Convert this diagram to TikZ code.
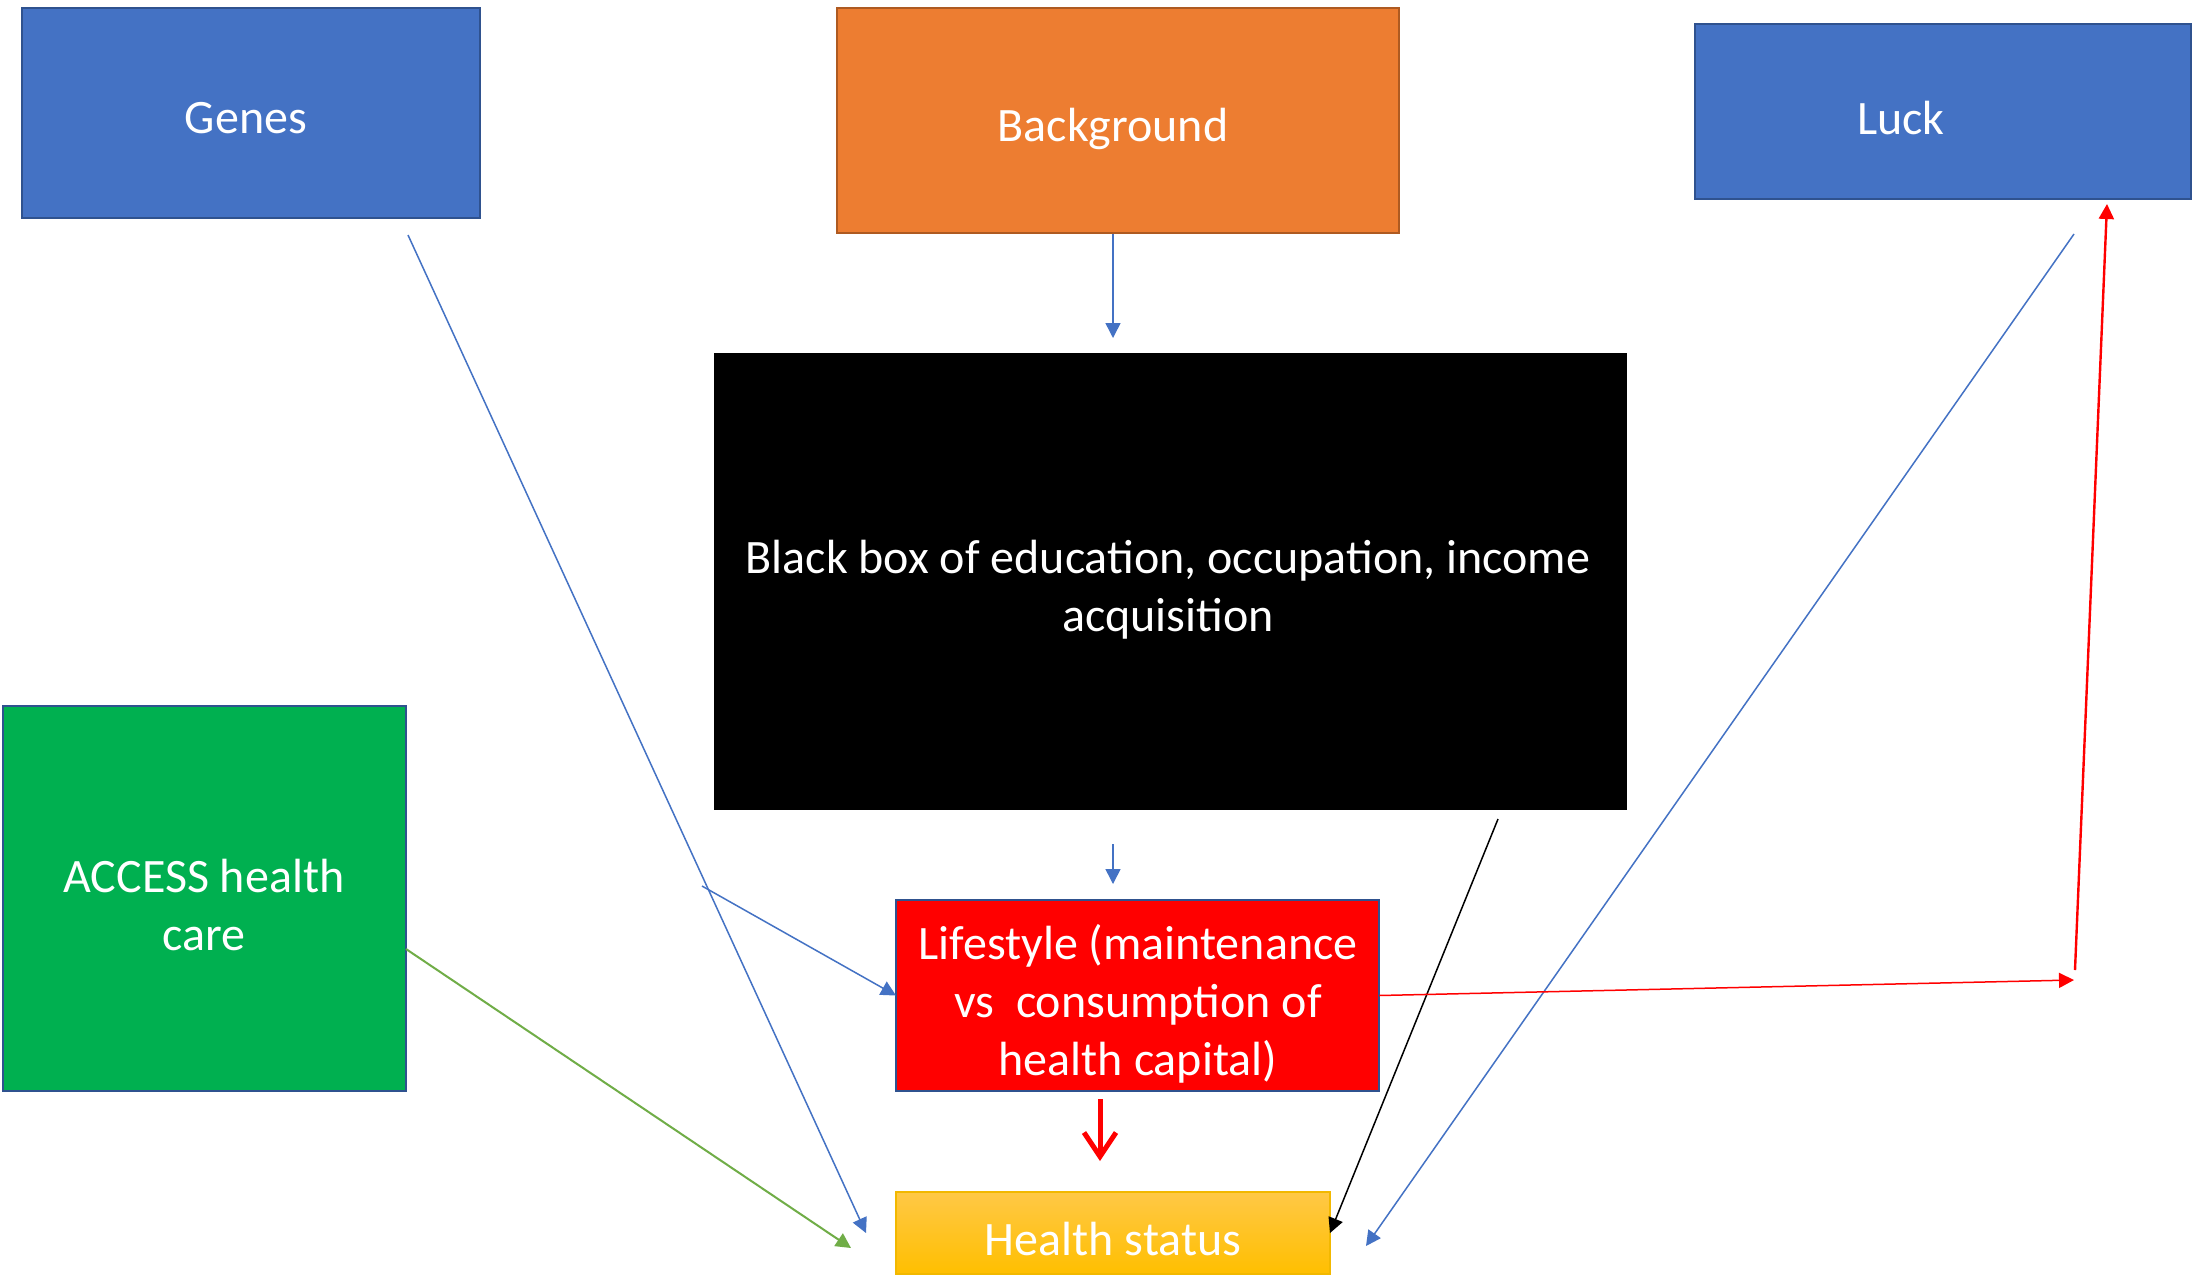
\documentclass[tikz,border=0pt]{standalone}
\usepackage{fontspec}
\setmainfont{Carlito}
\usetikzlibrary{arrows.meta}
\definecolor{boxblue}{HTML}{4472C4}
\definecolor{edgeblue}{HTML}{2F528F}
\definecolor{boxorange}{HTML}{ED7D31}
\definecolor{edgeorange}{HTML}{AE5A21}
\definecolor{boxgreen}{HTML}{00B050}
\definecolor{linegreen}{HTML}{70AD47}
\definecolor{goldtop}{HTML}{FFC846}
\definecolor{goldbot}{HTML}{FFBF00}
\definecolor{goldedge}{HTML}{F2B800}
\tikzset{
  box/.style={rectangle, inner sep=0pt, outer sep=0pt, line width=1pt, align=center,
    text=white, font=\fontsize{24}{29}\selectfont},
  txt/.style={inner sep=0pt, align=center, text=white, font=\fontsize{24}{29}\selectfont},
  conn/.style={line width=0.75pt, -{Triangle[length=7.5pt,width=7.5pt]}},
}
\begin{document}
\begin{tikzpicture}[x=0.5pt,y=-0.5pt]
\useasboundingbox[fill=white] (0,0) rectangle (2202,1282);
% boxes
\node[box, fill=boxblue, draw=edgeblue, minimum width=229pt, minimum height=105pt] (genes) at (251,113) {};
\node[txt] (genest) at (246,118) {Genes};
\node[box, fill=boxorange, draw=edgeorange, minimum width=281pt, minimum height=112.5pt] (bg) at (1118,120.5) {};
\node[txt] (bgt) at (1113,129) {Background};
\node[box, fill=boxblue, draw=edgeblue, minimum width=248pt, minimum height=87.5pt] (luck) at (1943,111.5) {};
\node[txt] (luckt) at (1901,118) {Luck};
\node[box, fill=black, draw=black, minimum width=455.5pt, minimum height=227.5pt] (bb) at (1170.5,581.5) {};
\node[txt] (bbt) at (1168,590) {Black box of education, occupation, income\\acquisition};
\node[box, fill=boxgreen, draw=edgeblue, minimum width=201.5pt, minimum height=192.5pt] (acc) at (204.5,898.5) {};
\node[txt] (acct) at (204,905) {ACCESS health\\care};
\node[box, fill=red, draw=edgeblue, minimum width=241.5pt, minimum height=95.5pt] (life) at (1137.5,995.5) {};
\node[txt] (lifet) at (1138,1004) {Lifestyle (maintenance\\vs\ \ consumption of\\health capital)};
\node[box, top color=goldtop, bottom color=goldbot, draw=goldedge, minimum width=217pt, minimum height=41pt] (hs) at (1113,1233) {};
\node[txt] (hst) at (1113,1239) {Health status};
% free ends
\coordinate (g1) at (408,235);
\coordinate (g2) at (866,1233);
\coordinate (b1) at (1113,234);
\coordinate (b2) at (1113,338);
\coordinate (k1) at (1113,844);
\coordinate (k2) at (1113,884);
\coordinate (l1) at (702,886);
\coordinate (a1) at (406,949);
\coordinate (a2) at (851,1248);
\coordinate (x1) at (1498,819);
\coordinate (u1) at (2074,234);
\coordinate (u2) at (1366,1246);
\coordinate (r1) at (2074,980);
\coordinate (r2) at (2075,970);
\coordinate (r3) at (2107,204);
\coordinate (t1) at (1100,1099);
\coordinate (t2) at (1100,1161);
% connectors
\draw[conn, boxblue] (g1) -- (g2);
\draw[conn, boxblue] (b1) -- (b2);
\draw[conn, boxblue] (k1) -- (k2);
\draw[conn, boxblue] (l1) -- (life.west);
\draw[conn, linegreen, line width=1pt] (a1) -- (a2);
\draw[conn, black] (x1) -- (hs.east);
\draw[conn, boxblue] (u1) -- (u2);
\draw[conn, red] (life.east) -- (r1);
\draw[conn, red, line width=1.2pt] (r2) -- (r3);
\draw[red, line width=2.5pt, -{Straight Barb[length=12pt,width=16pt]}] (t1) -- (t2);
\end{tikzpicture}
\end{document}
